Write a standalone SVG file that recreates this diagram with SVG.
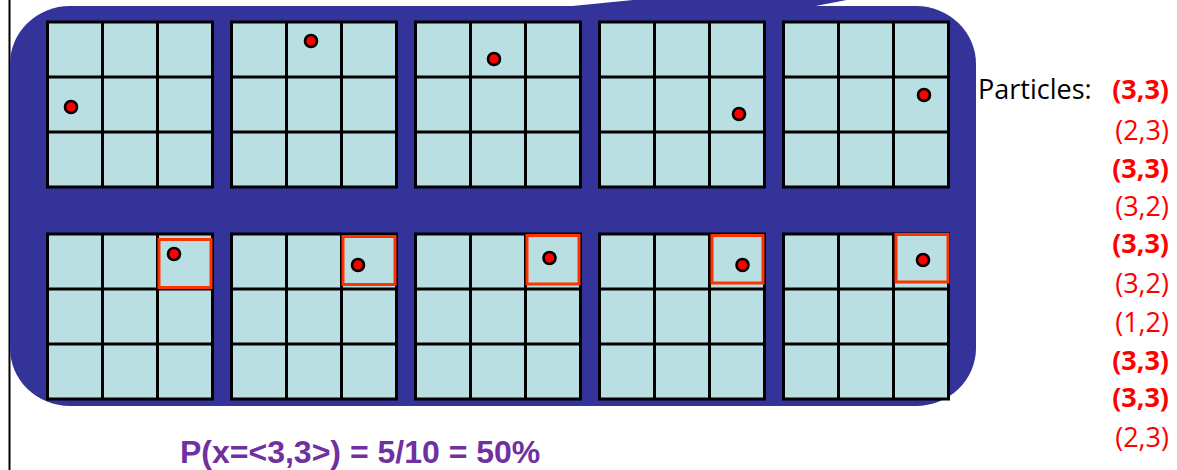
<svg xmlns="http://www.w3.org/2000/svg" xmlns:xlink="http://www.w3.org/1999/xlink" width="1177" height="470" viewBox="0 0 1177 470">
<style>
.cell{fill:#BADFE2;stroke:#000;stroke-width:3}
.gl{stroke:#000;stroke-width:3}
.dot{fill:#FF0000;stroke:#000;stroke-width:2.6}
.sel{fill:none;stroke:#FF3300;stroke-width:3}
.pt{font-family:"Open Sans","Noto Sans",sans-serif;font-size:27px;fill:#FF0000;text-anchor:end}
.b{font-weight:bold}
.lbl{font-family:"Open Sans","Noto Sans",sans-serif;font-size:27px;fill:#000}
.prob{font-family:"Liberation Sans",Arial,sans-serif;font-size:32px;font-weight:bold;fill:#7030A0}
</style>
<defs>
<g id="grid">
<rect class="cell" x="0" y="0" width="165" height="165"/>
<line class="gl" x1="55" y1="0" x2="55" y2="165"/>
<line class="gl" x1="110" y1="0" x2="110" y2="165"/>
<line class="gl" x1="0" y1="55" x2="165" y2="55"/>
<line class="gl" x1="0" y1="110" x2="165" y2="110"/>
</g>
</defs>
<rect width="1177" height="470" fill="#fff"/>
<line x1="9.5" y1="0" x2="9.5" y2="470" stroke="#000" stroke-width="2"/>
<g id="background">
<rect x="10" y="6" width="966" height="400" rx="60" ry="58" fill="#333399"/>
<polygon points="560,12 560,7.3 653,-2 857,-2 813,6.5 813,12" fill="#333399"/>
</g>
<g id="grid-top-1"><use xlink:href="#grid" x="47.5" y="22"/><circle class="dot" cx="71" cy="107" r="6"/></g>
<g id="grid-top-2"><use xlink:href="#grid" x="231.5" y="22"/><circle class="dot" cx="311" cy="41" r="6"/></g>
<g id="grid-top-3"><use xlink:href="#grid" x="415.5" y="22"/><circle class="dot" cx="494" cy="59" r="6"/></g>
<g id="grid-top-4"><use xlink:href="#grid" x="599.5" y="22"/><circle class="dot" cx="739" cy="114" r="6"/></g>
<g id="grid-top-5"><use xlink:href="#grid" x="783.5" y="22"/><circle class="dot" cx="924" cy="95" r="6"/></g>
<g id="grid-bot-1"><use xlink:href="#grid" x="47.5" y="234"/><rect class="sel" x="159" y="239.5" width="52" height="48"/><circle class="dot" cx="174" cy="254" r="6"/></g>
<g id="grid-bot-2"><use xlink:href="#grid" x="231.5" y="234"/><rect class="sel" x="343" y="236.5" width="52" height="48"/><circle class="dot" cx="358" cy="265" r="6"/></g>
<g id="grid-bot-3"><use xlink:href="#grid" x="415.5" y="234"/><rect class="sel" x="527" y="235.5" width="52" height="48.5"/><circle class="dot" cx="549.5" cy="258" r="6"/></g>
<g id="grid-bot-4"><use xlink:href="#grid" x="599.5" y="234"/><rect class="sel" x="712" y="235.5" width="51" height="47.5"/><circle class="dot" cx="742.5" cy="265" r="6"/></g>
<g id="grid-bot-5"><use xlink:href="#grid" x="783.5" y="234"/><rect class="sel" x="896" y="234.5" width="52" height="47.5"/><circle class="dot" cx="923" cy="260" r="6"/></g>
<g id="connectors"></g>
<g id="particles">
<text class="lbl" x="978" y="99">Particles:</text>
<text class="pt b" x="1169" y="99">(3,3)</text>
<text class="pt" x="1169" y="140">(2,3)</text>
<text class="pt b" x="1169" y="178">(3,3)</text>
<text class="pt" x="1169" y="216">(3,2)</text>
<text class="pt b" x="1169" y="253">(3,3)</text>
<text class="pt" x="1169" y="293">(3,2)</text>
<text class="pt" x="1169" y="332">(1,2)</text>
<text class="pt b" x="1169" y="370">(3,3)</text>
<text class="pt b" x="1169" y="407">(3,3)</text>
<text class="pt" x="1169" y="447">(2,3)</text>
</g>
<g id="probability">
<text class="prob" x="180" y="463">P(x=&lt;3,3&gt;) = 5/10 = 50%</text>
</g>
</svg>
